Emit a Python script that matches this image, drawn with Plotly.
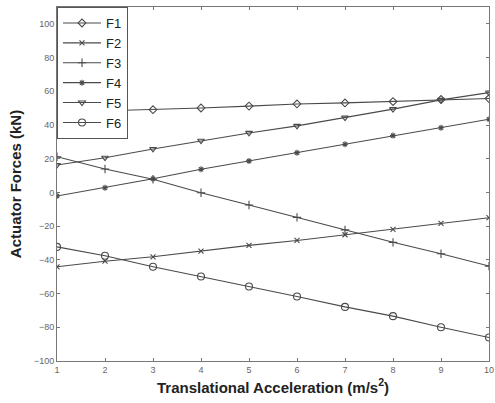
import plotly.graph_objects as go

accel = [1, 2, 3, 4, 5, 6, 7, 8, 9, 10]
F1 = [47.6, 48.4, 49.1, 50.1, 51.2, 52.5, 53.1, 53.9, 55.1, 55.7]
F2 = [-44.1, -40.8, -38.2, -34.8, -31.4, -28.5, -25.1, -21.9, -18.4, -15.0]
F3 = [21.2, 13.9, 7.8, -0.2, -7.5, -14.8, -22.2, -29.6, -36.4, -43.7]
F4 = [-2.1, 2.8, 8.1, 13.7, 18.7, 23.6, 28.6, 33.7, 38.4, 43.4]
F5 = [16.3, 20.6, 25.8, 30.7, 35.3, 39.5, 44.4, 49.4, 54.9, 59.2]
F6 = [-32.3, -37.6, -44.1, -49.9, -55.8, -61.7, -67.9, -73.4, -80.0, -86.1]

series = {"F1": F1, "F2": F2, "F3": F3, "F4": F4, "F5": F5, "F6": F6}
symbols = {"F1": "diamond-open", "F2": "x-thin-open", "F3": "cross-thin-open",
           "F4": "asterisk-open", "F5": "triangle-down-open", "F6": "circle-open"}
sizes = {"F1": 6, "F2": 5, "F3": 6, "F4": 5, "F5": 6, "F6": 7}

y_ticks = list(range(-100, 101, 20))

line_col = "#4a4a4a"
fig = go.Figure()
for name, vals in series.items():
    fig.add_trace(go.Scatter(
        x=accel, y=vals, name=name, mode="lines+markers",
        line=dict(color=line_col, width=1.1),
        marker=dict(symbol=symbols[name], size=sizes[name], color=line_col,
                    line=dict(color=line_col, width=1.1)),
    ))

fig.update_layout(
    width=495, height=403,
    margin=dict(l=57, r=6, t=7, b=42),
    paper_bgcolor="white", plot_bgcolor="white",
    font=dict(family="Liberation Sans, Arial, sans-serif", color="#333333"),
    showlegend=True,
    legend=dict(x=0, y=1, xanchor="left", yanchor="top",
                bordercolor="#555555", borderwidth=1, bgcolor="white",
                font=dict(size=13, color="#222222"),
                tracegroupgap=0, itemwidth=38),
)
fig.update_xaxes(
    range=[1, 10], tickvals=accel, ticks="inside", ticklen=3,
    tickcolor="#777777", showline=True, linecolor="#777777", linewidth=1,
    mirror="ticks", showgrid=False, zeroline=False, automargin=False,
    tickfont=dict(size=9, color="#666666"),
    title=dict(text="<b>Translational Acceleration (m/s<sup>2</sup>)</b>",
               font=dict(size=15, color="#222222"), standoff=8),
)
fig.update_yaxes(
    range=[-100, 110], tickvals=y_ticks, ticks="inside", ticklen=3,
    tickcolor="#777777", showline=True, linecolor="#777777", linewidth=1,
    mirror="ticks", showgrid=False, zeroline=False, automargin=False,
    tickfont=dict(size=9, color="#666666"),
    title=dict(text="<b>Actuator Forces (kN)</b>",
               font=dict(size=15, color="#222222"), standoff=8),
)

fig.write_html("out.html", config={"displayModeBar": False},
               post_script="document.body.style.margin='0';document.body.style.padding='0';")
